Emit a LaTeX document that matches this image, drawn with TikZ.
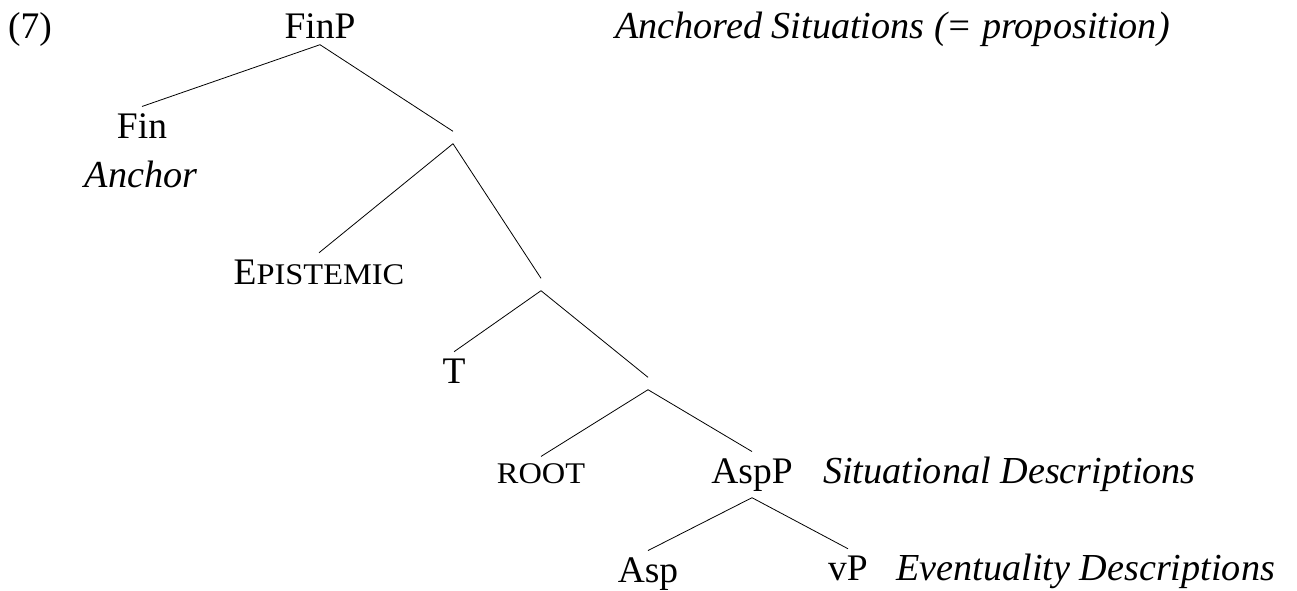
\documentclass[tikz,border=0pt]{standalone}
\usepackage{fontspec}
\usepackage{graphicx}
\setmainfont{Liberation Serif}
% reduced capitals standing in for small caps
\newcommand{\fsc}[1]{{\fontsize{30}{34}\selectfont\scalebox{1.08}[1]{#1}}}
\begin{document}
\begin{tikzpicture}[x=1pt,y=-1pt,
  every node/.style={font=\fontsize{37.5}{42}\selectfont},
  lbl/.style={anchor=base,inner xsep=0pt,inner ysep=6.5pt},
  note/.style={anchor=base west,inner sep=0pt,font=\fontsize{38.2}{42}\selectfont\itshape},
  bar/.style={inner sep=0pt,minimum height=12pt,minimum width=0pt},
  edge/.style={line width=0.8pt}]
\path[use as bounding box] (0,0) rectangle (1297,590);

% example number and annotations
\node[anchor=base west,inner sep=0pt] (num) at (8,38) {(7)};
\node[note] (nA) at (615,38) {Anchored Situations (= proposition)};
\node[note] (nS) at (823,483) {Situational Descriptions};
\node[note] (nE) at (896,580) {Eventuality Descriptions};

% tree labels
\node[lbl] (FinP) at (320,38) {FinP};
\node[lbl] (Fin) at (142,138) {Fin};
\node[anchor=base,inner sep=0pt,font=\fontsize{38.2}{42}\selectfont\itshape] (anc) at (141,187) {Anchor};
\node[lbl] (Epi) at (319,284) {E\fsc{PISTEMIC}};
\node[lbl] (T) at (454,383) {T};
\node[lbl] (Root) at (541,483) {\fsc{ROOT}};
\node[lbl] (AspP) at (752,483) {AspP};
\node[lbl] (Asp) at (648,582) {Asp};
\node[lbl] (vP) at (848,580) {vP};

% unlabelled intermediate projections
\node[bar] (b1) at (453,137.5) {};
\node[bar] (b2) at (541,284.5) {};
\node[bar] (b3) at (648,383.5) {};

% branches
\draw[edge] (FinP.south) -- (Fin.north);
\draw[edge] (FinP.south) -- (b1.north);
\draw[edge] (b1.south) -- (Epi.north);
\draw[edge] (b1.south) -- (b2.north);
\draw[edge] (b2.south) -- (T.north);
\draw[edge] (b2.south) -- (b3.north);
\draw[edge] (b3.south) -- (Root.north);
\draw[edge] (b3.south) -- (AspP.north);
\draw[edge] (AspP.south) -- (Asp.north);
\draw[edge] (AspP.south) -- (vP.north);
\end{tikzpicture}
\end{document}
